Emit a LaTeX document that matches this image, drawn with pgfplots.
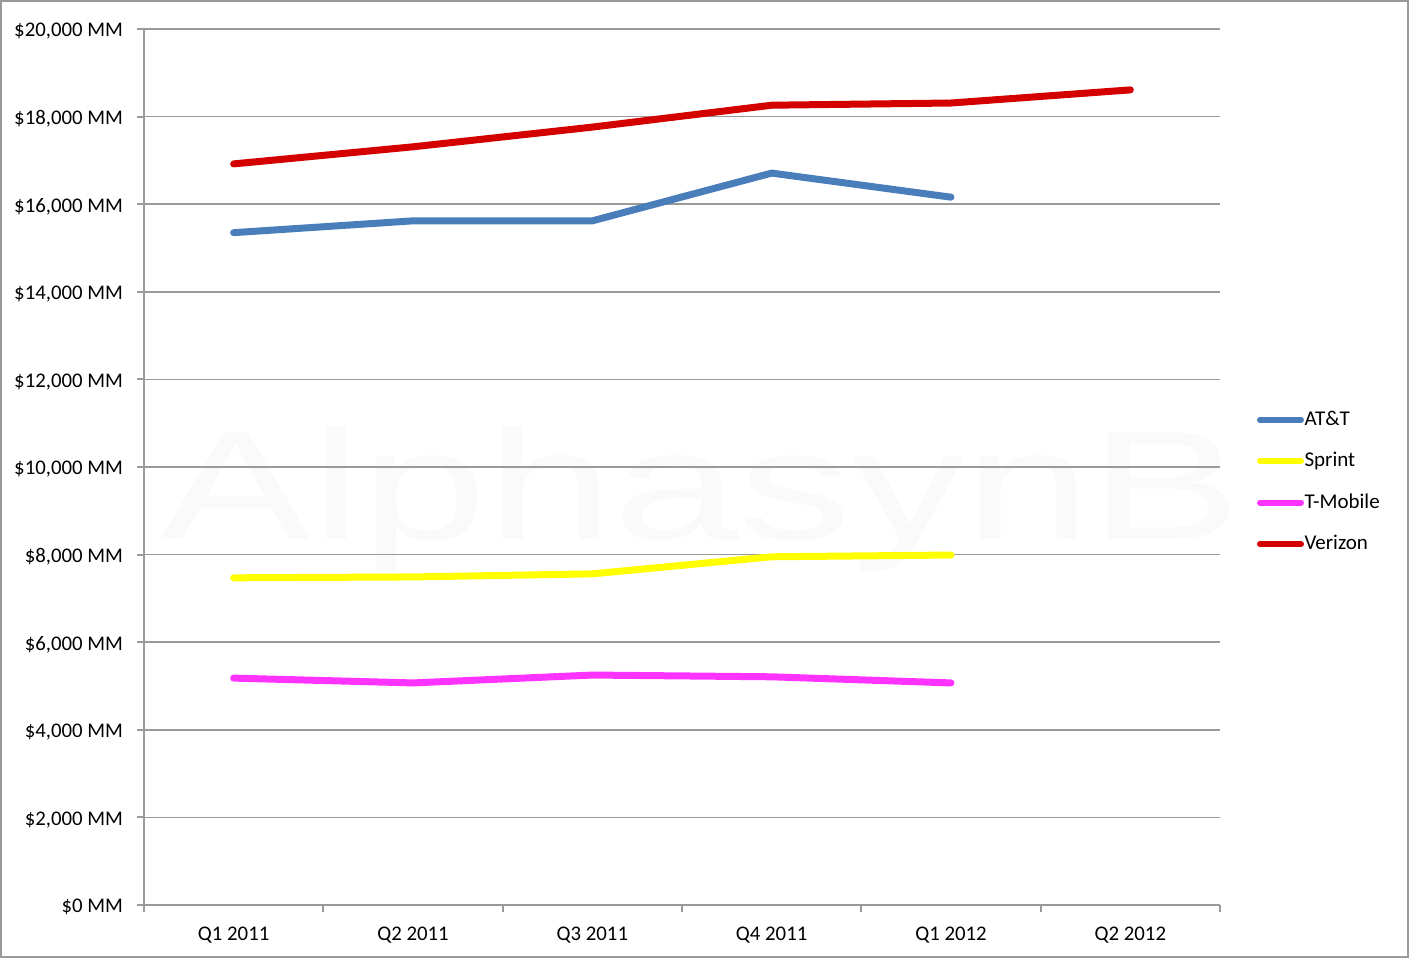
\documentclass[border=0pt]{standalone}
\usepackage{pgfplots}
\pgfplotsset{compat=1.18}
\usepackage{fontspec}
\setmainfont{Carlito}
\newfontfamily\wmfont{Liberation Sans}
\definecolor{att}{HTML}{4A7EBB}
\definecolor{sprint}{HTML}{FFFF00}
\definecolor{tmo}{HTML}{FF33FF}
\definecolor{vzw}{HTML}{D40000}
\definecolor{axgray}{HTML}{9A9A9A}
\begin{document}
\begin{tikzpicture}[x=1pt,y=1pt]
\node[text=gray!4, font=\wmfont\fontsize{78}{78}\selectfont, anchor=base west, inner sep=0pt, xscale=1.45] at (8pt,182.5pt) {AlphasynB};
\begin{axis}[
  scale only axis,
  width=538pt, height=438pt,
  xmin=-0.5, xmax=5.5, ymin=0, ymax=20000,
  axis x line*=bottom, axis y line*=left,
  axis line style={axgray, line width=1pt},
  xtick={0,...,5},
  xticklabels={Q1 2011,Q2 2011,Q3 2011,Q4 2011,Q1 2012,Q2 2012},
  minor xtick={-0.5,0.5,...,5.5},
  ytick={0,2000,...,20000},
  ymajorgrids,
  major grid style={axgray, line width=0.8pt},
  tick style={axgray, line width=1pt},
  major x tick style={draw=none},
  tick align=outside,
  major tick length=3.5pt, minor tick length=3.5pt,
  scaled y ticks=false,
  yticklabel={\$\pgfmathprintnumber[assume math mode=true,1000 sep={,}]{\tick} MM},
  ticklabel style={font=\fontsize{10.4}{12.5}\selectfont, text=black},
  yticklabel style={xshift=-3.5pt, yshift=-1.2pt},
  xticklabel style={yshift=-4pt},
  legend style={draw=none, fill=none, at={(1.034,0.483)}, anchor=west, inner sep=0pt,
    font=\fontsize{10.5}{12.5}\selectfont, row sep=11.4pt, nodes={inner sep=0.3pt}},
  legend cell align=left,
  legend image code/.code={\draw[#1, line width=3pt, line cap=round] (0pt,0pt) -- (20.5pt,0pt);},
  every axis plot/.append style={line width=3.5pt, line join=round, line cap=round},
  clip=false,
]
\addplot[att] coordinates {(0,15350) (1,15620) (2,15620) (3,16710) (4,16160)};
\addlegendentry{AT\&T}
\addplot[sprint] coordinates {(0,7470) (1,7490) (2,7560) (3,7950) (4,7990)};
\addlegendentry{Sprint}
\addplot[tmo] coordinates {(0,5180) (1,5070) (2,5250) (3,5210) (4,5070)};
\addlegendentry{T-Mobile}
\addplot[vzw] coordinates {(0,16920) (1,17310) (2,17760) (3,18260) (4,18310) (5,18610)};
\addlegendentry{Verizon}
\end{axis}
\draw[axgray, line width=1pt] (-71.5pt,-26pt) rectangle (632pt,452pt);
\end{tikzpicture}
\end{document}
